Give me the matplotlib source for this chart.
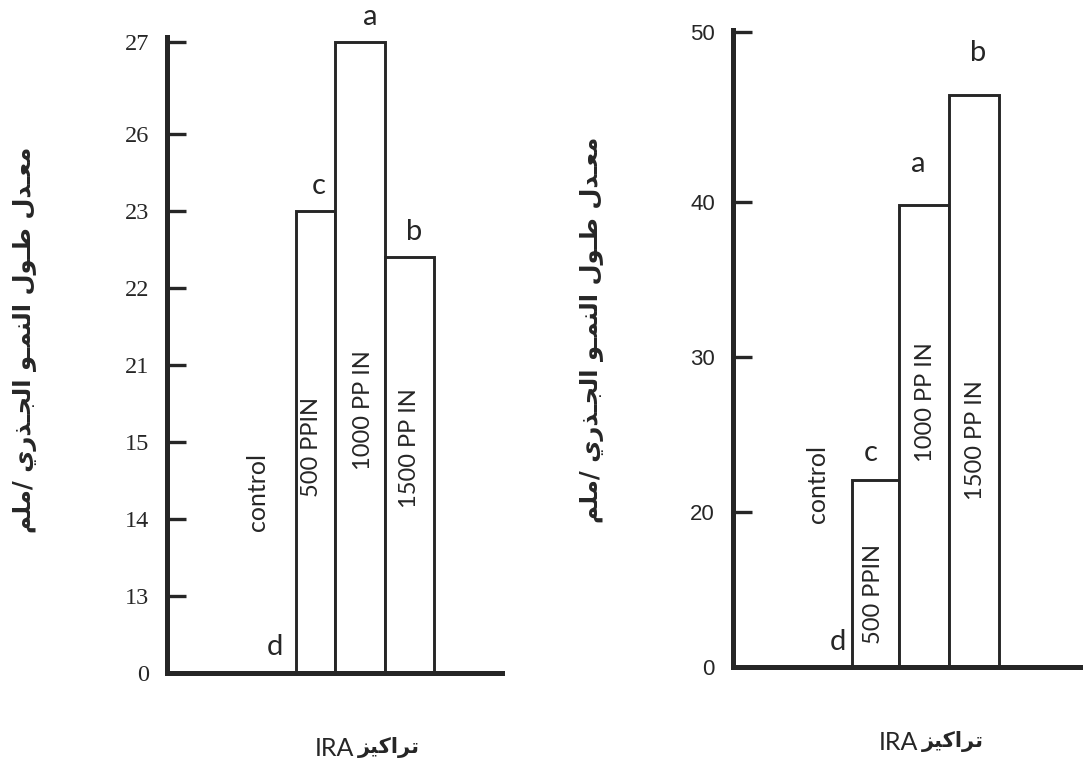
import numpy as np
import matplotlib
matplotlib.use("Agg")
import matplotlib.pyplot as plt

# ---------------- data ----------------
treatments = ["control", "500 PPIN", "1000 PP IN", "1500 PP IN"]

left_values = [0, 23, 27, 22.4]
left_letters = ["d", "c", "a", "b"]
left_ticks = [0, 13, 14, 15, 21, 22, 23, 26, 27]

right_values = [0, 22.1, 39.8, 46.3]
right_letters = ["d", "c", "a", "b"]
right_ticks = [0, 20, 30, 40, 50]

y_label = "معـدل طـول النمـو الجـذري /ملم"
x_word = "تراكيز"
x_code = "IRA"

# ---------------- Arabic shaping (presentation forms) ----------------
FORMS = {  # isolated, final, initial, medial
    "ا": ("\uFE8D", "\uFE8E", None, None),
    "ت": ("\uFE95", "\uFE96", "\uFE97", "\uFE98"),
    "ج": ("\uFE9D", "\uFE9E", "\uFE9F", "\uFEA0"),
    "د": ("\uFEA9", "\uFEAA", None, None),
    "ذ": ("\uFEAB", "\uFEAC", None, None),
    "ر": ("\uFEAD", "\uFEAE", None, None),
    "ز": ("\uFEAF", "\uFEB0", None, None),
    "ط": ("\uFEC1", "\uFEC2", "\uFEC3", "\uFEC4"),
    "ع": ("\uFEC9", "\uFECA", "\uFECB", "\uFECC"),
    "ك": ("\uFED9", "\uFEDA", "\uFEDB", "\uFEDC"),
    "ل": ("\uFEDD", "\uFEDE", "\uFEDF", "\uFEE0"),
    "م": ("\uFEE1", "\uFEE2", "\uFEE3", "\uFEE4"),
    "ن": ("\uFEE5", "\uFEE6", "\uFEE7", "\uFEE8"),
    "و": ("\uFEED", "\uFEEE", None, None),
    "ي": ("\uFEF1", "\uFEF2", "\uFEF3", "\uFEF4"),
}
TATWEEL = "\u0640"


def _is_arabic(c):
    return c in FORMS or c == TATWEEL


def _joins_next(c):
    return c == TATWEEL or (c in FORMS and FORMS[c][2] is not None)


def shape(text):
    out = []
    for i, c in enumerate(text):
        if c not in FORMS:
            out.append(c)
            continue
        prev = text[i - 1] if i > 0 else None
        nxt = text[i + 1] if i + 1 < len(text) else None
        jp = prev is not None and _joins_next(prev)
        jn = _joins_next(c) and nxt is not None and _is_arabic(nxt)
        iso, fin, ini, med = FORMS[c]
        out.append(med if (jp and jn) else fin if jp else ini if jn else iso)
    return "".join(out)


def rtl(text):
    return shape(text)[::-1]


# ---------------- scales with evenly spaced tick slots ----------------
left_slots = [0, 1, 2, 3, 4, 5, 6, 7, 8.2]
right_slots = [0, 1, 2, 3, 4.1]


def slot_scale(values, slots):
    v = np.asarray(values, float)
    s = np.asarray(slots, float)
    v = np.concatenate([[v[0] - 10 * (v[1] - v[0])], v, [v[-1] + 10 * (v[-1] - v[-2])]])
    s = np.concatenate([[s[0] - 10 * (s[1] - s[0])], s, [s[-1] + 10 * (s[-1] - s[-2])]])
    return (lambda x: np.interp(x, v, s)), (lambda y: np.interp(y, s, v))


INK = "#262626"
W, H = 1083, 771
fig = plt.figure(figsize=(W / 100, H / 100), dpi=100)
fig.patch.set_facecolor("white")

LATIN = ["Lato", "DejaVu Sans"]
AR = ["DejaVu Sans"]


def style_axis(ax, ticks, slots, top, tick_font, tick_size):
    ax.set_yscale("function", functions=slot_scale(ticks, slots))
    ax.set_ylim(0, top)
    ax.set_yticks(ticks)
    ax.set_yticklabels([str(t) for t in ticks], fontfamily=tick_font, fontsize=tick_size, color=INK)
    ax.yaxis.set_minor_locator(matplotlib.ticker.NullLocator())
    ax.tick_params(axis="y", direction="in", length=14, width=2.4, color=INK, pad=13)
    ax.set_xticks([])
    for side in ("top", "right"):
        ax.spines[side].set_visible(False)
    for side in ("left", "bottom"):
        ax.spines[side].set_linewidth(3.6)
        ax.spines[side].set_color(INK)
        ax.spines[side].set_capstyle("projecting")
    ax.set_facecolor("none")


def draw_panel(ax, lefts, widths, values, letters, letter_offsets, label_pos, control_pos):
    centers = [l + w / 2 for l, w in zip(lefts, widths)]
    ax.bar(lefts, values, width=widths, align="edge", facecolor="white",
           edgecolor=INK, linewidth=2.1, clip_on=False, zorder=1)
    for c, v, let, (dx, dy) in zip(centers, values, letters, letter_offsets):
        ax.annotate(let, xy=(c, v), xytext=(dx, dy), textcoords="offset pixels",
                    ha="center", va="center", fontsize=21, color=INK,
                    fontfamily=LATIN, annotation_clip=False)
    # treatment names written vertically inside the bars
    cx, cy = control_pos
    ax.text(cx, cy, treatments[0], rotation=90, ha="center", va="center",
            transform=ax.get_xaxis_transform(), fontsize=18, color=INK,
            fontfamily=LATIN)
    for c, name, (dx, fy) in zip(centers[1:], treatments[1:], label_pos):
        ax.text(c + dx, fy, name, rotation=90, ha="center", va="center",
                transform=ax.get_xaxis_transform(), fontsize=17, color=INK,
                fontfamily=LATIN)


# ---- left panel ----
ax1 = fig.add_axes([167 / W, 98 / H, 335 / W, 636 / H])
ax1.set_xlim(0, 335)
style_axis(ax1, left_ticks, left_slots, 27.05, "Liberation Serif", 17.5)
draw_panel(ax1,
           lefts=[90, 129, 168, 218], widths=[39, 39, 50, 49],
           values=left_values, letters=left_letters,
           letter_offsets=[(-2, 26), (3, 25), (10, 25), (5, 25)],
           label_pos=[(-4, 0.355), (3, 0.414), (0, 0.354)],
           control_pos=(90, 0.285))

# ---- right panel ----
ax2 = fig.add_axes([733 / W, 104 / H, 350 / W, 637 / H])
ax2.set_xlim(0, 350)
style_axis(ax2, right_ticks, right_slots, 50.1, "Liberation Sans", 16)
draw_panel(ax2,
           lefts=[72, 119, 166, 216], widths=[47, 47, 50, 50],
           values=right_values, letters=right_letters,
           letter_offsets=[(9, 25), (-5, 27), (-6, 41), (4, 42)],
           label_pos=[(-2, 0.115), (1, 0.416), (1, 0.356)],
           control_pos=(84, 0.287))

# ---- axis titles ----
for (yx, yy), (xx, xy) in [((25, 340), (357, 748)), ((592, 330), (921, 742))]:
    fig.text(yx / W, 1 - yy / H, rtl(y_label), rotation=90, ha="center", va="center",
             fontsize=17.5, fontweight="bold", fontfamily=AR, color=INK)
    fig.text(xx / W - 0.003, 1 - xy / H, x_code, ha="right", va="center",
             fontsize=18, fontfamily=LATIN, color=INK)
    fig.text(xx / W + 0.001, 1 - xy / H, rtl(x_word), ha="left", va="center",
             fontsize=15, fontweight="bold", fontfamily=AR, color=INK)

fig.savefig("out.png", dpi=100, facecolor="white")
